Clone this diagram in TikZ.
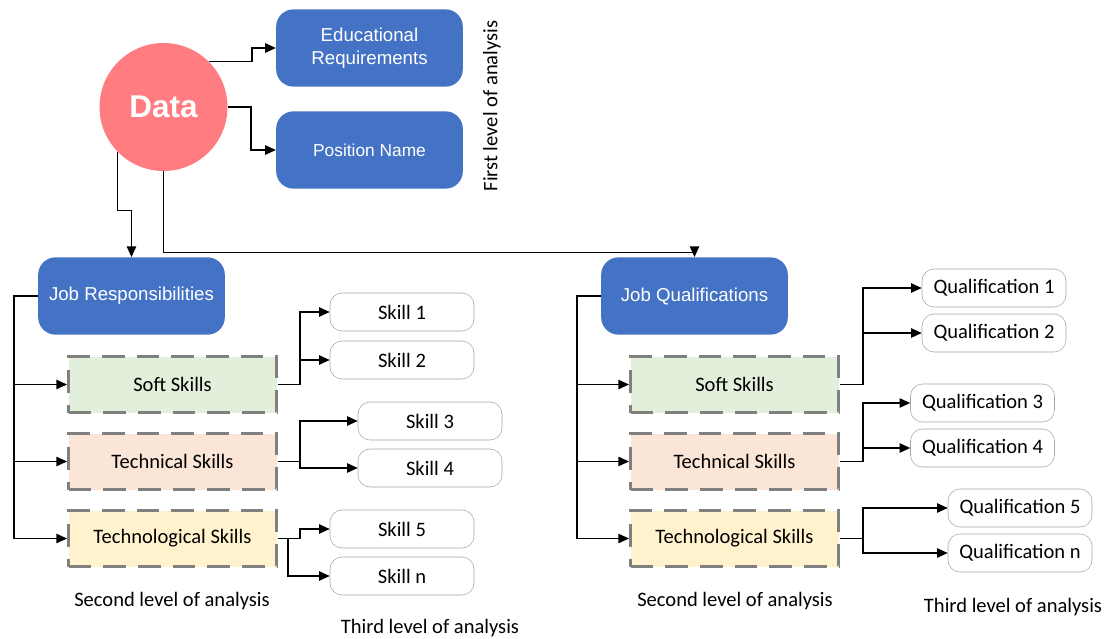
\documentclass[tikz,border=0pt]{standalone}
\usepackage{fontspec}
\setmainfont{Carlito}
\newfontfamily\boxfont{Liberation Sans}
\usetikzlibrary{arrows.meta}

\definecolor{boxblue}{HTML}{4472C4}
\definecolor{datared}{HTML}{FF7C80}
\definecolor{softfill}{HTML}{E2EFDA}
\definecolor{techfill}{HTML}{FBE5D6}
\definecolor{technofill}{HTML}{FFF2CC}
\definecolor{dashgray}{HTML}{808080}
\definecolor{itemgray}{HTML}{A6A6A6}

\tikzset{
  bluebox/.style={rectangle, rounded corners=13pt, fill=boxblue, text=white,
    minimum width=140pt, minimum height=58pt, align=center,
    font=\boxfont\fontsize{14}{17}\selectfont},
  levelbox/.style={rectangle, draw=dashgray, line width=2.2pt,
    dash pattern=on 17pt off 9pt, minimum width=156pt, minimum height=42pt,
    font=\fontsize{15.4}{18}\selectfont},
  itembox/.style={rectangle, rounded corners=9pt, draw=itemgray, fill=white,
    minimum width=108pt, minimum height=28.5pt,
    font=\fontsize{15.4}{18}\selectfont},
  levellabel/.style={font=\fontsize{15.4}{18}\selectfont},
  arr/.style={-{Triangle[length=8pt,width=7pt]}, line width=1.1pt}
}

\begin{document}
\begin{tikzpicture}[x=0.75pt, y=-0.75pt]
  \useasboundingbox (0,0) rectangle (1107,639);

  % first level
  \node[circle, fill=datared, minimum size=96pt, text=white,
    font=\boxfont\bfseries\fontsize{23.6}{28}\selectfont] (data) at (163.5,107) {Data};
  \node[bluebox] (edu) at (369.5,48) {Educational\\Requirements};
  \node[bluebox, font=\boxfont\fontsize{13}{16}\selectfont] (pos) at (369.5,150) {Position Name};
  \node[levellabel, rotate=90] (first) at (492,106) {First level of analysis};

  \draw[arr] (data.45) -- ++(43,0) |- (edu.west);
  \draw[arr] (data.east) -- ++(23,0) |- (pos.west);

  % second level
  \node[bluebox] (jr) at (131.5,296) {Job Responsibilities};
  \node[bluebox] (jq) at (694.5,296) {Job Qualifications};

  \draw[arr] (data.224) -- ++(0,59) -| (jr.north);
  \draw[arr] (data.south) -- ++(0,81) -| (jq.north);

  \node[levelbox, fill=softfill]   (softL)   at (172.5,384.5) {Soft Skills};
  \node[levelbox, fill=techfill]   (techL)   at (172.5,461.5) {Technical Skills};
  \node[levelbox, fill=technofill] (technoL) at (172.5,538.5) {Technological Skills};
  \node[levelbox, fill=softfill]   (softR)   at (734.5,384.5) {Soft Skills};
  \node[levelbox, fill=techfill]   (techR)   at (734.5,461.5) {Technical Skills};
  \node[levelbox, fill=technofill] (technoR) at (734.5,538.5) {Technological Skills};

  \foreach \n in {softL,techL,technoL}
    \draw[arr] (jr.west) -- ++(-24,0) |- (\n.west);
  \foreach \n in {softR,techR,technoR}
    \draw[arr] (jq.west) -- ++(-24,0) |- (\n.west);

  \node[levellabel] (secondL) at (172,601) {Second level of analysis};
  \node[levellabel] (secondR) at (735,601) {Second level of analysis};

  % third level
  \node[itembox] (sk1) at (402,312) {Skill 1};
  \node[itembox] (sk2) at (402,360) {Skill 2};
  \node[itembox] (sk3) at (430,421) {Skill 3};
  \node[itembox] (sk4) at (430,468) {Skill 4};
  \node[itembox] (sk5) at (402,529) {Skill 5};
  \node[itembox] (skn) at (402,576) {Skill n};

  \node[itembox] (q1) at (994,288)  {Qualification 1};
  \node[itembox] (q2) at (994,333)  {Qualification 2};
  \node[itembox] (q3) at (982.5,403) {Qualification 3};
  \node[itembox] (q4) at (982.5,448) {Qualification 4};
  \node[itembox] (q5) at (1020,508) {Qualification 5};
  \node[itembox] (qn) at (1020,553) {Qualification n};

  \foreach \n in {sk1,sk2}
    \draw[arr] (softL.east) -- ++(22,0) |- (\n.west);
  \foreach \n in {sk3,sk4}
    \draw[arr] (techL.east) -- ++(22,0) |- (\n.west);
  \draw[arr] (technoL.east) -- ++(22,0) |- (sk5.west);
  \draw[arr] (technoL.east) -- ++(10,0) |- (skn.west);

  \foreach \n in {q1,q2}
    \draw[arr] (softR.east) -- ++(23,0) |- (\n.west);
  \foreach \n in {q3,q4}
    \draw[arr] (techR.east) -- ++(23,0) |- (\n.west);
  \foreach \n in {q5,qn}
    \draw[arr] (technoR.east) -- ++(23,0) |- (\n.west);

  \node[levellabel] (thirdL) at (430,628) {Third level of analysis};
  \node[levellabel] (thirdR) at (1013,607) {Third level of analysis};
\end{tikzpicture}
\end{document}
